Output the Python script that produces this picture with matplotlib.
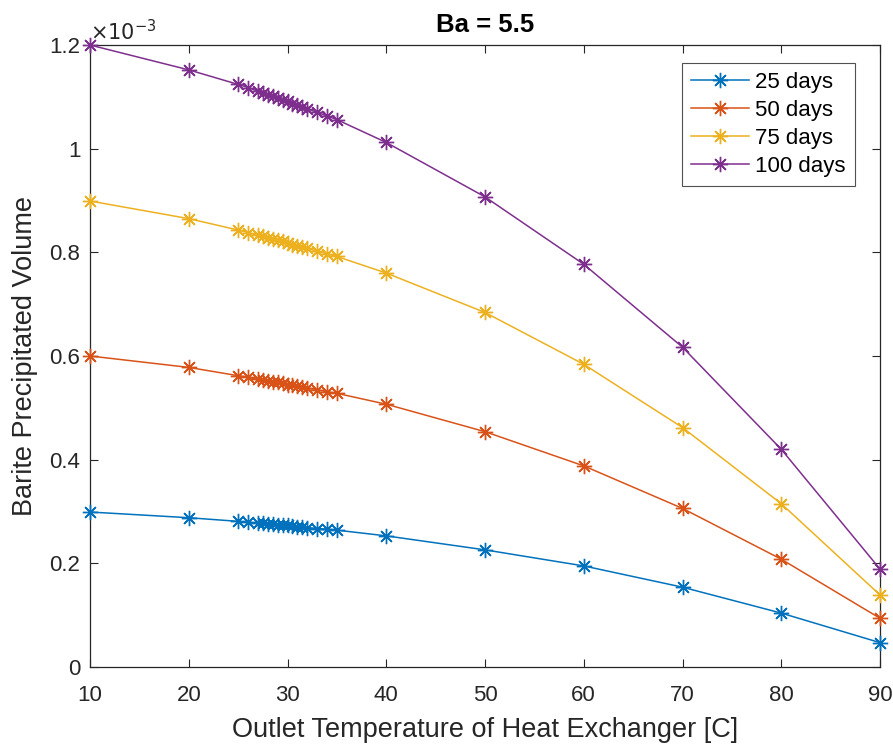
import numpy as np
import matplotlib
matplotlib.use("Agg")
import matplotlib.pyplot as plt
from matplotlib.ticker import FuncFormatter

plt.rcParams['font.family'] = ['Liberation Sans', 'DejaVu Sans']

# outlet temperature [C]
temps = [10, 20, 25, 26, 27, 27.5, 28, 28.5, 29, 29.5, 30, 30.5, 31, 31.5, 32,
         33, 34, 35, 40, 50, 60, 70, 80, 90]

# precipitated volume, in units of 1e-3
vol_25 = [0.299, 0.288, 0.281, 0.279, 0.278, 0.277, 0.276, 0.275, 0.274, 0.273,
          0.273, 0.272, 0.271, 0.270, 0.269, 0.267, 0.266, 0.264,
          0.253, 0.226, 0.195, 0.154, 0.104, 0.047]
vol_50 = [0.600, 0.578, 0.562, 0.559, 0.555, 0.554, 0.552, 0.550, 0.549, 0.547,
          0.545, 0.544, 0.542, 0.540, 0.538, 0.535, 0.531, 0.528,
          0.507, 0.454, 0.388, 0.306, 0.208, 0.094]
vol_75 = [0.899, 0.865, 0.843, 0.838, 0.833, 0.831, 0.828, 0.826, 0.823, 0.821,
          0.818, 0.815, 0.813, 0.810, 0.808, 0.802, 0.797, 0.792,
          0.760, 0.684, 0.584, 0.462, 0.315, 0.139]
vol_100 = [1.200, 1.152, 1.124, 1.118, 1.111, 1.108, 1.104, 1.101, 1.098, 1.094,
           1.091, 1.087, 1.084, 1.080, 1.077, 1.070, 1.063, 1.056,
           1.012, 0.907, 0.777, 0.617, 0.420, 0.189]

labels = ['25 days', '50 days', '75 days', '100 days']
colors = ['#0072BD', '#D95319', '#EDB120', '#7E2F8E']
axis_grey = '#262626'

fig = plt.figure(figsize=(8.93, 7.47), dpi=100)
ax = fig.add_axes([90 / 893, 1 - 667 / 747, 790 / 893, 622 / 747])

for vals, lab, c in zip([vol_25, vol_50, vol_75, vol_100], labels, colors):
    ax.plot(temps, vals, color=c, lw=1.1, marker=(8, 2, 0), ms=11,
            mew=1.0, label=lab, clip_on=False, zorder=3)

ax.set_xlim(10, 90)
ax.set_ylim(0, 1.2)
ax.set_xticks(np.arange(10, 91, 10))
ax.set_yticks(np.arange(0, 1.21, 0.2))
ax.yaxis.set_major_formatter(FuncFormatter(lambda v, p: f'{v:g}'))

ax.tick_params(direction='in', length=6, width=0.8, colors=axis_grey,
               labelsize=16, top=True, right=True)
ax.tick_params(axis='x', pad=13)
ax.tick_params(axis='y', pad=7)
for sp in ax.spines.values():
    sp.set_color(axis_grey)
    sp.set_linewidth(0.9)

ax.text(0.0, 1.002, r'$\times10^{-3}$', transform=ax.transAxes,
        fontsize=15, color=axis_grey, ha='left', va='bottom',
        fontfamily='DejaVu Sans')

ax.set_xlabel('Outlet Temperature of Heat Exchanger [C]', fontsize=19.5,
              color=axis_grey, labelpad=8)
ax.set_ylabel('Barite Precipitated Volume', fontsize=19.5, color=axis_grey,
              labelpad=8)
ax.set_title('Ba = 5.5', fontsize=18.5, fontweight='bold', color='black',
             pad=9)

leg = ax.legend(loc='upper right', bbox_to_anchor=(0.968, 0.971),
                borderaxespad=0, fontsize=16, frameon=True, fancybox=False,
                edgecolor=axis_grey, handlelength=2.6, labelspacing=0.32,
                handletextpad=0.3, borderpad=0.4)
leg.get_frame().set_linewidth(0.8)

fig.savefig('out.png', dpi=100, facecolor='white')
